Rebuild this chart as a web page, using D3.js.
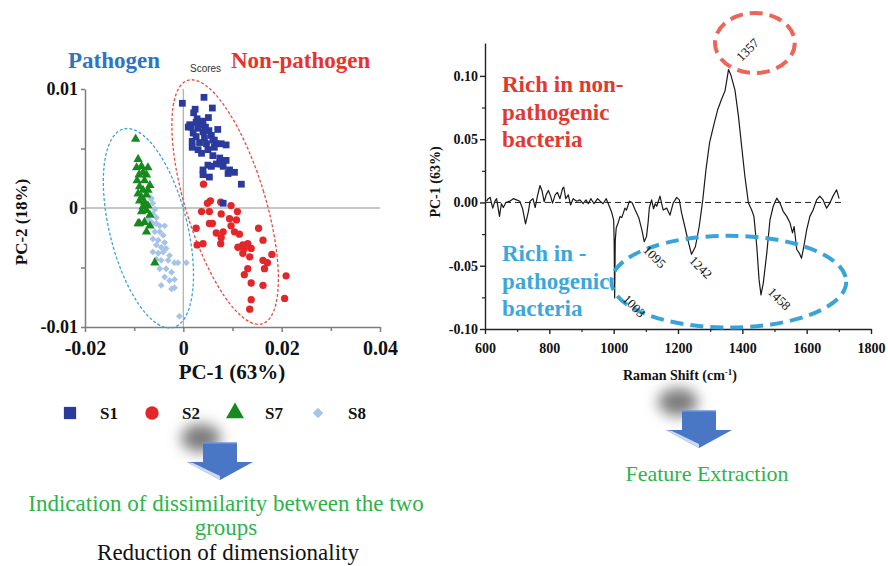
<!DOCTYPE html>
<html>
<head>
<meta charset="utf-8">
<script src="https://cdn.jsdelivr.net/npm/d3@7"></script>
<style>
  html, body { margin: 0; padding: 0; background: #fff; }
  svg { display: block; }
</style>
</head>
<body>
<svg id="fig" width="888" height="566"></svg>
<script>
// ---- PCA scores (PC-1, PC-2) per strain ----
const s1 = [[-0.0002,0.0088],[0.0042,0.0093],[0.0059,0.0084],[0.0024,0.0083],[0.0021,0.0080],
  [0.0028,0.0075],[0.0040,0.0073],[0.0013,0.0070],[0.0016,0.0068],[0.0033,0.0070],[0.0045,0.0068],
  [0.0030,0.0067],[0.0020,0.0063],[0.0040,0.0064],[0.0052,0.0065],[0.0026,0.0060],[0.0043,0.0059],
  [0.0057,0.0061],[0.0018,0.0056],[0.0033,0.0055],[0.0047,0.0054],[0.0060,0.0057],[0.0067,0.0054],
  [0.0077,0.0054],[0.0087,0.0053],[0.0018,0.0051],[0.0030,0.0049],[0.0050,0.0049],[0.0037,0.0046],
  [0.0060,0.0044],[0.0074,0.0042],[0.0087,0.0040],[0.0067,0.0037],[0.0050,0.0036],[0.0040,0.0032],
  [0.0057,0.0035],[0.0081,0.0035],[0.0040,0.0028],[0.0094,0.0032],[0.0104,0.0030],[0.0091,0.0029],
  [0.0118,0.0020],[0.0081,0.0004],[0.0010,0.0068],[0.0070,0.0066],[0.0063,0.0057],[0.0053,0.0026],
  [0.0077,0.0037],[0.0063,0.0051],[0.0026,0.0072],[0.0051,0.0076]];
const s2 = [[0.0055,0.0006],[0.0049,0.0004],[0.0076,0.0005],[0.0097,0.0002],[0.0037,-0.0003],
  [0.0053,-0.0003],[0.0077,-0.0005],[0.0110,-0.0003],[0.0094,-0.0009],[0.0108,-0.0010],[0.0053,-0.0013],
  [0.0059,-0.0013],[0.0097,-0.0015],[0.0026,-0.0017],[0.0067,-0.0021],[0.0081,-0.0020],[0.0104,-0.0020],
  [0.0114,-0.0022],[0.0077,-0.0025],[0.0153,-0.0017],[0.0162,-0.0027],[0.0076,-0.0030],[0.0040,-0.0030],
  [0.0028,-0.0031],[0.0111,-0.0033],[0.0121,-0.0031],[0.0131,-0.0030],[0.0138,-0.0034],[0.0124,-0.0034],
  [0.0121,-0.0038],[0.0135,-0.0041],[0.0162,-0.0044],[0.0171,-0.0046],[0.0180,-0.0039],[0.0165,-0.0051],
  [0.0131,-0.0051],[0.0124,-0.0056],[0.0209,-0.0057],[0.0162,-0.0065],[0.0138,-0.0063],[0.0206,-0.0076],
  [0.0138,-0.0077],[0.0135,-0.0085],[0.0041,0.0020]];
const s7 = [[-0.0097,0.0058],[-0.0092,0.0041],[-0.0095,0.0034],[-0.0085,0.0035],[-0.0072,0.0034],
  [-0.0082,0.0030],[-0.0090,0.0028],[-0.0075,0.0028],[-0.0094,0.0023],[-0.0079,0.0023],[-0.0068,0.0019],
  [-0.0089,0.0018],[-0.0082,0.0015],[-0.0072,0.0015],[-0.0092,0.0012],[-0.0085,0.0009],[-0.0075,0.0011],
  [-0.0089,0.0006],[-0.0079,0.0005],[-0.0082,0.0001],[-0.0072,0.0002],[-0.0085,-0.0003],[-0.0075,-0.0002],
  [-0.0068,-0.0006],[-0.0089,-0.0013],[-0.0079,-0.0012],[-0.0068,-0.0015],[-0.0075,-0.0020],
  [-0.0058,-0.0046],[-0.0092,-0.0013]];
const s8 = [[-0.0065,0.0008],[-0.0058,-0.0001],[-0.0062,-0.0005],[-0.0055,-0.0008],[-0.0065,-0.0012],
  [-0.0055,-0.0013],[-0.0048,-0.0015],[-0.0038,-0.0015],[-0.0058,-0.0020],[-0.0048,-0.0020],[-0.0041,-0.0023],
  [-0.0062,-0.0026],[-0.0051,-0.0027],[-0.0038,-0.0029],[-0.0055,-0.0031],[-0.0045,-0.0033],[-0.0035,-0.0034],
  [-0.0062,-0.0037],[-0.0051,-0.0038],[-0.0041,-0.0037],[-0.0028,-0.0040],[-0.0055,-0.0043],[-0.0045,-0.0044],
  [-0.0031,-0.0044],[-0.0018,-0.0046],[0.0006,-0.0046],[-0.0048,-0.0051],[-0.0035,-0.0051],[-0.0024,-0.0054],
  [-0.0011,-0.0046],[-0.0038,-0.0058],[-0.0028,-0.0061],[-0.0018,-0.0060],[-0.0045,-0.0065],[-0.0024,-0.0068],
  [-0.0008,-0.0091],[-0.0072,-0.0009],[-0.0062,-0.0013],[-0.0018,-0.0067],[-0.0062,0.0004],[-0.0066,0.0008]];

const strainNames = ["S1", "S2", "S7", "S8"];
const pcaXTicks = [-0.02, 0, 0.02, 0.04];
const pcaXTickText = ["-0.02", "0", "0.02", "0.04"];
const pcaXMinor = [-0.01, 0.01, 0.03];
const pcaYTicks = [-0.01, 0, 0.01];
const pcaYTickText = ["-0.01", "0", "0.01"];
const pcaYMinor = [-0.005, 0.005];

// Group confidence ellipses (centre in score units, semi-axes in score units)
const pathogenEllipse = { cx: -0.0071, cy: -0.0017, rx: 0.0079, ry: 0.0086, angle: -14 };
const nonPathogenEllipse = { cx: 0.0085, cy: 0.0005, rx: 0.0081, ry: 0.0107, angle: -17 };

// ---- PC-1 loading spectrum ----
const ramanShift = [605,610,616,624,631,636,645,651,657,665,677,688,698,708,717,726,735,740,749,756,763,771,777,
  784,790,797,804,810,818,825,833,841,845,851,859,866,874,885,895,905,914,921,929,939,950,958,967,977,988,994,
  1000,1001.5,1003,1005,1008,1014,1020,1025,1030,1035,1040,1049,1057,1067,1078,1088,1095,1102,1107,1111,1118,
  1124,1129,1134,1144,1154,1165,1175,1185,1196,1204,1211,1222,1232,1242,1254,1266,1277,1287,1298,1310,1323,
  1336,1346,1352,1357,1364,1377,1388,1398,1408,1419,1429,1436,1445,1452,1458,1465,1476,1486,1496,1507,1517,
  1527,1538,1548,1556,1561,1569,1577,1584,1591,1600,1610,1620,1631,1641,1651,1662,1672,1682,1693,1701];
const pc1Loading = [0.001,0.003,0.004,-0.0045,0.001,0.003,-0.011,-0.001,-0.004,0.000,0.001,0.003,0.002,0.001,
  -0.005,-0.017,-0.007,0.001,0.003,-0.004,0.005,0.0134,0.0095,0.0005,0.006,0.0095,0.005,-0.0005,0.006,0.008,
  0.003,0.011,0.012,0.003,0.006,-0.002,0.003,0.001,0.002,-0.001,0.002,-0.001,0.003,-0.001,0.003,0.001,-0.001,
  0.003,-0.004,-0.008,-0.014,-0.03,-0.0755,-0.03,-0.02,-0.016,-0.011,-0.012,-0.0084,-0.0045,-0.006,0.001,0.000,
  -0.006,-0.012,-0.022,-0.031,-0.027,-0.016,-0.004,0.002,-0.005,-0.001,-0.003,0.005,-0.006,-0.0045,-0.010,
  -0.0005,0.004,0.002,-0.008,-0.020,-0.031,-0.041,-0.035,-0.019,0.002,0.026,0.047,0.060,0.073,0.082,0.088,
  0.097,0.105,0.101,0.089,0.068,0.044,0.0205,-0.0005,-0.006,-0.011,-0.035,-0.061,-0.073,-0.064,-0.040,-0.0137,
  -0.003,0.0034,-0.0005,-0.007,-0.011,-0.016,-0.024,-0.019,-0.037,-0.040,-0.044,-0.035,-0.0216,-0.011,-0.006,
  0.002,0.005,0.002,-0.0045,-0.0005,0.005,0.010,0.003];

const ramanXTicks = [600, 800, 1000, 1200, 1400, 1600, 1800];
const ramanXMinor = [700, 900, 1100, 1300, 1500, 1700];
const ramanYTicks = [-0.10, -0.05, 0, 0.05, 0.10];
const ramanYTickText = ["-0.10", "-0.05", "0.00", "0.05", "0.10"];
const ramanYMinor = [-0.075, -0.025, 0.025, 0.075];
const negativeBands = [1003, 1095, 1242, 1458];
const positiveBands = [1357];

// Highlight ellipses around the discriminating bands (cm-1, loading units)
const positiveRegion = { cx: 1439, cy: 0.126, rx: 124, ry: 0.0237 };
const negativeRegion = { cx: 1358, cy: -0.0626, rx: 365, ry: 0.0363 };

// ---------------------------------------------------------------
const svg = d3.select("#fig");
const SERIF = "Liberation Serif";
const SANS = "Liberation Sans";

// text helper: every label goes through here so the font is set as a style
function label(parent, txt, opts) {
  const t = parent.append("text").text(txt)
    .style("font-family", opts.family || SERIF)
    .style("font-size", (opts.size || 14) + "px")
    .style("font-weight", opts.bold ? "bold" : "normal")
    .attr("fill", opts.color || "#111");
  if (opts.transform) t.attr("transform", opts.transform);
  else t.attr("x", opts.x).attr("y", opts.y);
  if (opts.anchor) t.attr("text-anchor", opts.anchor);
  if (opts.dy) t.attr("dy", opts.dy);
  return t;
}

const defs = svg.append("defs");
defs.append("filter").attr("id", "soft").attr("x", "-100%").attr("y", "-100%")
  .attr("width", "300%").attr("height", "300%")
  .append("feGaussianBlur").attr("stdDeviation", 7);

function styleAxis(g, color, width, size, bold) {
  g.select(".domain").attr("stroke", color).attr("stroke-width", width);
  g.selectAll(".tick line").attr("stroke", color).attr("stroke-width", width);
  g.selectAll(".tick text").style("font-family", SERIF).style("font-size", size + "px")
    .style("font-weight", bold ? "bold" : "normal").attr("fill", "#111");
}

// ===== Left panel: PCA score plot =====
const xL = d3.scaleLinear().domain([-0.02, 0.04]).range([85, 380]);
const yL = d3.scaleLinear().domain([-0.01, 0.01]).range([327, 89]);
const left = svg.append("g");

// zero reference lines
left.append("line").attr("x1", xL(-0.02)).attr("x2", xL(0.04)).attr("y1", yL(0)).attr("y2", yL(0))
  .attr("stroke", "#b4b4b4").attr("stroke-width", 1.3);
left.append("line").attr("x1", xL(0)).attr("x2", xL(0)).attr("y1", yL(0.01)).attr("y2", yL(-0.01))
  .attr("stroke", "#b4b4b4").attr("stroke-width", 1.3);

const axXL = left.append("g").attr("transform", `translate(0,${yL(-0.01)})`)
  .call(d3.axisBottom(xL).tickValues(pcaXTicks).tickSize(5).tickSizeOuter(0)
    .tickFormat((d, i) => pcaXTickText[i]));
styleAxis(axXL, "#7d7d7d", 1.5, 20, true);
axXL.selectAll(".tick text").attr("dy", "1.0em");
const axXLm = left.append("g").attr("transform", `translate(0,${yL(-0.01)})`)
  .call(d3.axisBottom(xL).tickValues(pcaXMinor).tickSize(4).tickFormat(""));
axXLm.select(".domain").remove();
styleAxis(axXLm, "#7d7d7d", 1.5, 10, false);

const axYL = left.append("g").attr("transform", `translate(${xL(-0.02)},0)`)
  .call(d3.axisLeft(yL).tickValues(pcaYTicks).tickSize(4).tickSizeOuter(0)
    .tickFormat((d, i) => pcaYTickText[i]));
styleAxis(axYL, "#7d7d7d", 1.5, 18, true);
axYL.selectAll(".tick text").attr("x", -7);
const axYLm = left.append("g").attr("transform", `translate(${xL(-0.02)},0)`)
  .call(d3.axisLeft(yL).tickValues(pcaYMinor).tickSize(4).tickFormat(""));
axYLm.select(".domain").remove();
styleAxis(axYLm, "#7d7d7d", 1.5, 10, false);

// ellipses
function scoreEllipse(e, color) {
  const cx = xL(e.cx), cy = yL(e.cy);
  const rx = xL(e.rx) - xL(0), ry = yL(0) - yL(e.ry);
  left.append("ellipse").attr("transform", `translate(${cx},${cy}) rotate(${e.angle})`)
    .attr("rx", rx).attr("ry", ry).attr("fill", "none")
    .attr("stroke", color).attr("stroke-width", 1.3).attr("stroke-dasharray", "3,2");
}
scoreEllipse(pathogenEllipse, "#3aa3dc");
scoreEllipse(nonPathogenEllipse, "#ec4a3e");

// markers
const diamond = { draw(ctx, size) { const r = Math.sqrt(size) / 2 * 1.35;
  ctx.moveTo(0, -r); ctx.lineTo(r, 0); ctx.lineTo(0, r); ctx.lineTo(-r, 0); ctx.closePath(); } };
const strainStyle = [
  { pts: s1, type: d3.symbolSquare, size: 46, color: "#2a3a9d", legendSize: 150 },
  { pts: s2, type: d3.symbolCircle, size: 42, color: "#e3262a", legendSize: 140 },
  { pts: s7, type: d3.symbolTriangle, size: 38, color: "#178a1d", legendSize: 140 },
  { pts: s8, type: diamond, size: 26, color: "#a7c4e8", legendSize: 60 }
];
// light-blue diamonds drawn first so triangles sit on top
[3, 2, 1, 0].forEach(k => {
  const st = strainStyle[k];
  left.append("g").selectAll("path").data(st.pts).join("path")
    .attr("transform", d => `translate(${xL(d[0])},${yL(d[1])})`)
    .attr("d", d3.symbol().type(st.type).size(st.size)).attr("fill", st.color);
});

// titles
label(left, "Pathogen", { x: 68, y: 68, size: 23, bold: true, color: "#2e74c0" });
label(left, "Non-pathogen", { x: 231, y: 68, size: 23, bold: true, color: "#e8332d" });
label(left, "Scores", { x: 190, y: 72, size: 10, family: SANS, color: "#333" });
label(left, "PC-1 (63%)", { x: 232, y: 379, size: 21, bold: true, anchor: "middle" });
label(left, "PC-2 (18%)", { transform: "translate(27,222) rotate(-90)", size: 17, bold: true, anchor: "middle" });

// legend
const legendX = [70, 152, 235, 318];
strainStyle.forEach((st, i) => {
  left.append("path").attr("transform", `translate(${legendX[i]},${413})`)
    .attr("d", d3.symbol().type(st.type).size(st.legendSize)).attr("fill", st.color);
  label(left, strainNames[i], { x: legendX[i] + 30, y: 419, size: 17, bold: true });
});

// ===== Right panel: PC-1 loading =====
const xR = d3.scaleLinear().domain([600, 1800]).range([485, 871]);
const yR = d3.scaleLinear().domain([-0.10, 0.126]).range([329, 43]);
const right = svg.append("g");

right.append("line").attr("x1", xR(600)).attr("x2", xR(1710)).attr("y1", yR(0)).attr("y2", yR(0))
  .attr("stroke", "#222").attr("stroke-width", 1).attr("stroke-dasharray", "6,4");

const axXR = right.append("g").attr("transform", `translate(0,${yR(-0.10)})`)
  .call(d3.axisBottom(xR).tickValues(ramanXTicks).tickSize(5).tickSizeOuter(0).tickFormat(d3.format("d")));
styleAxis(axXR, "#222", 1.4, 14, true);
axXR.selectAll(".tick text").attr("dy", "1.15em");
const axXRm = right.append("g").attr("transform", `translate(0,${yR(-0.10)})`)
  .call(d3.axisBottom(xR).tickValues(ramanXMinor).tickSize(3).tickFormat(""));
axXRm.select(".domain").remove();
styleAxis(axXRm, "#222", 1.2, 10, false);

const axYR = right.append("g").attr("transform", `translate(${xR(600)},0)`)
  .call(d3.axisLeft(yR).tickValues(ramanYTicks).tickSize(5).tickSizeOuter(0)
    .tickFormat((d, i) => ramanYTickText[i]));
styleAxis(axYR, "#222", 1.4, 14, true);
axYR.selectAll(".tick text").attr("x", -7);
const axYRm = right.append("g").attr("transform", `translate(${xR(600)},0)`)
  .call(d3.axisLeft(yR).tickValues(ramanYMinor).tickSize(3).tickFormat(""));
axYRm.select(".domain").remove();
styleAxis(axYRm, "#222", 1.2, 10, false);

// spectrum
const spectrum = ramanShift.map((w, i) => [w, pc1Loading[i]]);
right.append("path").datum(spectrum)
  .attr("d", d3.line().x(d => xR(d[0])).y(d => yR(d[1])))
  .attr("fill", "none").attr("stroke", "#1a1a1a").attr("stroke-width", 1.2).attr("stroke-linejoin", "round");

// axis titles
label(right, "PC-1 (63%)", { transform: "translate(440,182) rotate(-90)", size: 14, bold: true, anchor: "middle" });
const xTitle = label(right, "", { x: 680, y: 380, size: 14, bold: true, anchor: "middle" });
xTitle.append("tspan").text("Raman Shift (cm");
xTitle.append("tspan").attr("dy", -5).style("font-size", "9px").text("-1");
xTitle.append("tspan").attr("dy", 5).text(")");

// highlight ellipses
function bandEllipse(e, color) {
  right.append("ellipse").attr("cx", xR(e.cx)).attr("cy", yR(e.cy))
    .attr("rx", xR(e.cx + e.rx) - xR(e.cx)).attr("ry", yR(0) - yR(e.ry))
    .attr("fill", "none").attr("stroke", color).attr("stroke-width", 4).attr("stroke-dasharray", "13,7");
}
bandEllipse(negativeRegion, "#3aa4da");
bandEllipse(positiveRegion, "#ec6559");

// band labels
const lookup = w => pc1Loading[ramanShift.indexOf(w)];
const negOffset = { 1003: [7, 2], 1095: [-2, 9], 1242: [-3, 7], 1458: [6, -2] };
negativeBands.forEach(w => {
  const px = xR(w) + negOffset[w][0], py = yR(lookup(w)) + negOffset[w][1];
  label(right, String(w), { transform: `translate(${px},${py}) rotate(45)`, size: 13 });
});
positiveBands.forEach(w => {
  label(right, String(w), { transform: `translate(${xR(w) + 19},${yR(lookup(w)) - 20}) rotate(-45)`,
    size: 13, anchor: "middle", dy: "0.35em" });
});

// region captions
const redCaption = ["Rich in non-", "pathogenic", "bacteria"];
const blueCaption = ["Rich in -", "pathogenic", "bacteria"];
redCaption.forEach((t, i) => label(right, t, { x: 502, y: 92 + i * 27.5, size: 23, bold: true, color: "#e2382f" }));
blueCaption.forEach((t, i) => label(right, t, { x: 502, y: 261 + i * 27.5, size: 23, bold: true, color: "#3ba7dc" }));

// ===== Process arrows and captions =====
function processArrow(cx, top, blobX, blobY) {
  const g = svg.append("g");
  g.append("ellipse").attr("cx", blobX).attr("cy", blobY).attr("rx", 20).attr("ry", 14)
    .attr("fill", "#7c7c7c").attr("filter", "url(#soft)");
  const pts = [[cx - 17, top], [cx + 17, top], [cx + 17, top + 19], [cx + 33, top + 19],
    [cx, top + 37], [cx - 33, top + 19], [cx - 17, top + 19]];
  g.append("polygon").attr("points", pts.map(p => p.join(",")).join(" ")).attr("fill", "#4a76c6");
  g.append("polygon").attr("points",
    [[cx - 33, top + 19], [cx, top + 37], [cx, top + 33], [cx - 27, top + 20]].map(p => p.join(",")).join(" "))
    .attr("fill", "#cdd9f0");
  g.append("line").attr("x1", cx - 17).attr("x2", cx + 17).attr("y1", top).attr("y2", top)
    .attr("stroke", "#6e93d8").attr("stroke-width", 1.5);
}
processArrow(220, 443, 201, 438);
processArrow(699, 411, 678, 402);

label(svg, "Indication of dissimilarity between the two", { x: 226, y: 511, size: 23, color: "#2db34b", anchor: "middle" });
label(svg, "groups", { x: 226, y: 535, size: 23, color: "#2db34b", anchor: "middle" });
label(svg, "Reduction of dimensionality", { x: 228, y: 560, size: 23, color: "#111", anchor: "middle" });
label(svg, "Feature Extraction", { x: 707, y: 481, size: 22, color: "#2db34b", anchor: "middle" });
</script>
</body>
</html>
